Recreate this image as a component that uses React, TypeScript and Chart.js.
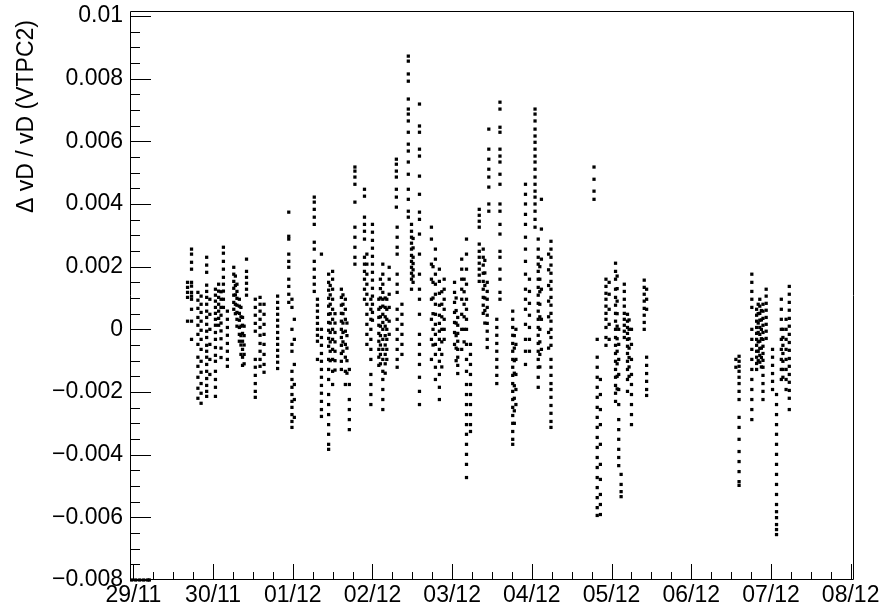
import { useEffect, useRef } from "react";
import { Chart, registerables } from "chart.js";

Chart.register(...registerables);

// Time axis in days since 29/11 00:00
const X_MIN = -0.042;
const X_MAX = 9.042;
const dayTicks = [0, 1, 2, 3, 4, 5, 6, 7, 8, 9];
const dayLabels = ["29/11", "30/11", "01/12", "02/12", "03/12", "04/12", "05/12", "06/12", "07/12", "08/12"];

const Y_MIN = -0.008;
const Y_MAX = 0.01016;
const yTicks = [-0.008, -0.006, -0.004, -0.002, 0, 0.002, 0.004, 0.006, 0.008, 0.01];
const yTickLabels = ["\u22120.008", "\u22120.006", "\u22120.004", "\u22120.002", "0", "0.002", "0.004", "0.006", "0.008", "0.01"];

const yTitle = "\u0394 vD / vD (VTPC2)";

// Each entry: [time in days, relative drift-velocity changes (units of 1e-3) logged at that time]
type Column = [number, number[]];

const floorHits: Column[] = [
  [-0.02, [-8]], [0.03, [-8]], [0.08, [-8]], [0.13, [-8]], [0.18, [-8]], [0.2, [-8]],
];

const nov29: Column[] = [
  [0.68, [1.5, 1.34, 1.18, 1.02, 0.26]],
  [0.73, [2.56, 2.4, 2.14, 1.92, 1.5, 1.38, 1.18, 1.06, 0.96, 0.64, 0.26, -0.32]],
  [0.81, [1.18, 0.93, 0.67, 0.38, 0.13, -0.16, -0.48, -0.89, -1.18, -1.53, -1.88, -2.2]],
  [0.85, [1.06, 0.8, 0.54, 0.26, -0.03, -0.32, -0.64, -1.02, -1.37, -1.73, -2.04, -2.36]],
  [0.92, [2.3, 2.05, 1.82, 1.41, 1.21, 1.02, 0.8, 0.58, 0.38, 0.16, -0.06, -0.26, -0.51, -0.7, -0.89, -1.12, -1.34, -1.57, -1.79, -1.98, -2.14]],
  [0.96, [0.96, 0.48, 0, -0.48, -0.96, -1.44]],
];

const nov30: Column[] = [
  [1.03, [1.28, 1.09, 0.9, 0.7, 0.51, 0.32, 0.13, -0.1, -0.32, -0.58, -0.83, -1.02, -1.34, -1.6, -1.85, -2.14]],
  [1.07, [1.44, 1.22, 1.02, 0.8, 0.58, 0.35, 0.13]],
  [1.1, [1.2, 0.96, 0.7, 0.45, 0.2, -0.05, -0.3, -0.6, -0.9]],
  [1.13, [2.62, 2.43, 2.17, 1.92, 1.66, 1.44, 1.22, 0.96, 0.7]],
  [1.18, [0.58, 0.32, 0.06, -0.19, -0.45, -0.7, -0.96, -1.18]],
  [1.26, [1.98, 1.76, 1.53, 1.31, 1.09, 0.86, 0.64]],
  [1.28, [1.7, 1.4, 1.1, 0.8, 0.5]],
  [1.3, [1.44, 1.21, 0.99, 0.77, 0.54, 0.32, 0.1]],
  [1.33, [0.96, 0.74, 0.51, 0.29, 0.06, -0.16, -0.38]],
  [1.35, [0.7, 0.4, 0.1, -0.2, -0.5, -0.8]],
  [1.37, [0.38, 0.13, -0.13, -0.38, -0.64, -0.89, -1.15]],
  [1.39, [0.1, -0.2, -0.5, -0.8, -1.1]],
  [1.42, [2.24, 1.85, 1.66, 1.47, 1.28, 1.09]],
  [1.53, [0.96, 0.7, 0.45, 0.19, -0.06, -0.96, -1.21, -1.47, -1.73, -1.98, -2.17]],
  [1.59, [1.02, 0.8, 0.58, 0.32, 0.06, -0.19, -0.45, -0.7, -0.96, -1.18]],
  [1.64, [0.8, 0.48, 0.16, -0.16, -0.48, -0.8, -1.12, -1.37]],
  [1.81, [1.06, 0.86, 0.67, 0.48, 0.29, 0.1, -0.1, -0.29, -0.48, -0.67, -0.86, -1.05, -1.25]],
  [1.95, [3.74, 2.97, 2.88, 2.4, 2.17, 1.98, 1.6, 1.37, 1.12, 0.86]],
  [1.99, [0.96, 0.7, 0, -0.48, -0.7, -1.34, -1.6, -1.85, -2.08, -2.3, -2.49, -2.72, -2.94, -3.13]],
];

const dec01: Column[] = [
  [2.02, [0.32, -0.32, -1.12, -1.76, -2.24, -2.81]],
  [2.27, [4.22, 4.06, 3.83, 3.58, 3.35, 2.78, 2.56, 2.17, 1.92, 1.66, 1.44, 1.21]],
  [2.31, [0.96, 0.77, 0.58, 0.38, 0.19, 0, -0.19, -0.38, -0.96]],
  [2.36, [2.4, 0, -0.26, -0.51, -0.77, -1.02, -1.28, -1.53, -1.79, -2.04, -2.3, -2.56, -2.78]],
  [2.45, [1.76, 1.5, 1.25, 0.99, 0.74, 0.48, 0.22, -0.03, -0.29, -0.54, -0.96, -1.28, -1.6, -2.08, -2.4, -2.72, -3.04, -3.35, -3.67, -3.83]],
  [2.47, [1.4, 1.1, 0.8, 0.5, 0.2, -0.1, -0.4, -0.7, -1.0]],
  [2.5, [1.85, 1.6, 1.28, 0.96, 0.64, 0.32, 0, -0.32, -0.64, -0.96, -1.34, -1.76]],
  [2.53, [0.5, 0.2, -0.1, -0.4, -0.7, -1.0, -1.3]],
  [2.61, [1.28, 1.02, 0.77, 0.51, 0.26, 0, -0.26, -0.51, -0.77, -1.02, -1.28]],
  [2.63, [1.1, 0.8, 0.5, 0.2, -0.1, -0.4, -0.7]],
  [2.66, [0.96, 0.64, 0.32, -0.06, -0.48, -0.89, -1.34, -1.76]],
  [2.68, [0.2, -0.2, -0.6, -1.0, -1.4]],
  [2.71, [-1.28, -1.76, -2.24, -2.56, -2.88, -3.2]],
  [2.78, [5.18, 5.05, 4.86, 4.63, 4.06, 3.26, 2.94, 2.62, 2.3, 2.08]],
  [2.9, [4.47, 4.25, 3.58, 3.35, 3.13, 2.88, 2.3, 2.08, 1.85, 1.6, 1.28, 0.96]],
  [2.93, [2.4, 2.08, 1.76, 1.44, 1.12, 0.8, 0.48, 0.16, -0.16, -0.48]],
  [2.98, [0.96, 0.64, 0.32, 0, -0.32, -0.64, -0.96, -1.44, -1.76, -2.08, -2.4]],
];

const dec02: Column[] = [
  [3.0, [3.35, 3.1, 2.84, 2.59, 2.33, 2.08, 1.82, 1.57, 1.31, 1.06, 0.8, 0.54, 0.29]],
  [3.08, [0.96, 0.64, 0.38, 0.13, -0.13, -0.38, -0.64, -0.89, -1.15]],
  [3.1, [1.6, 1.3, 1.0, 0.7, 0.4, 0.1, -0.2, -0.5, -0.8, -1.1]],
  [3.13, [2.08, 1.76, 1.44, 1.18, 0.96, 0.74, 0.48, 0.22, 0, -0.32, -0.64, -0.96, -1.34, -1.6, -1.92, -2.24, -2.56]],
  [3.16, [1.0, 0.7, 0.4, 0.1, -0.2, -0.5, -0.8, -1.1, -1.4]],
  [3.18, [0.96, 0.64, 0.32, 0, -0.32, -0.64, -0.96]],
  [3.21, [1.98, 1.6, 1.12, 0.7, 0.26, -0.16]],
  [3.3, [5.43, 5.27, 5.05, 4.86, 4.47, 4.22, 3.9]],
  [3.31, [3.26, 2.94, 2.62, 2.4, 1.76, 1.44, 1.18, 0.64, 0.32, 0, -0.32, -0.64, -0.96, -1.21]],
  [3.37, [0.8, 0.48, 0.16, -0.16, -0.48, -0.8]],
  [3.45, [8.72, 8.56, 8.15, 7.92, 7.35, 7.03, 6.87, 6.65, 6.29, 5.91, 5.69, 5.34, 4.95, 4.47, 4.15, 3.77, 3.58]],
  [3.49, [3.35, 3.13, 2.94, 2.75, 2.56, 2.36, 2.17, 1.98, 1.79, 1.6, 1.28]],
  [3.51, [2.9, 2.6, 2.3, 2.1, 1.9, 1.7, 1.5]],
  [3.59, [7.19, 6.49, 6.29, 5.75, 5.53, 4.89, 4.31, 3.74, 3.51, 3.04, 2.4, 1.76, 1.28, 0.96, 0.48, -0.16, -0.48, -0.8, -1.12, -1.53, -1.98, -2.4]],
  [3.74, [3.26, 2.88, 2.08, 1.6, 0.96, 0.32, -0.32, -0.96]],
  [3.76, [2.0, 1.5, 1.0, 0.5, 0.0, -0.5]],
  [3.79, [2.56, 2.24, 1.76, 1.44, 1.12, 0.8, 0.48, 0.16, -0.16, -0.48, -0.8, -1.21, -1.6]],
  [3.84, [1.92, 1.53, 1.15, 0.77, 0.45, 0.19, -0.06, -0.32, -0.64, -1.02, -1.44, -1.85, -2.24]],
  [3.87, [1.2, 0.8, 0.4, 0.0, -0.4, -0.8, -1.2]],
  [3.9, [1.6, 1.28, 0.96, 0.64, 0.32, 0, -0.32]],
];

const dec03: Column[] = [
  [4.03, [1.5, 1.18, 0.86, 0.54, 0.22, -0.1, -0.48]],
  [4.05, [1.0, 0.6, 0.2, -0.2, -0.6, -1.0]],
  [4.07, [0.38, 0.13, -0.13, -0.38, -0.64, -0.89, -1.15, -1.41]],
  [4.12, [2.24, 1.92, 1.6, 1.28, 0.96, 0.48, 0, -0.64]],
  [4.15, [1.6, 1.2, 0.8, 0.4, 0.0, -0.4]],
  [4.18, [2.88, 2.4, 1.92, 1.44, 0.96, 0.64, 0.32, 0, -0.48, -0.96, -1.34, -1.76, -2.08, -2.4, -2.72, -3.04, -3.35, -3.67, -3.99, -4.31, -4.73]],
  [4.23, [-0.48, -0.8, -1.12, -1.44, -1.76, -2.08, -2.4, -2.72, -3.04, -3.26]],
  [4.34, [3.83, 3.64, 3.45, 3.26, 2.72, 2.49, 2.3, 2.11, 1.92, 1.73, 1.53]],
  [4.39, [2.56, 2.3, 2.05, 1.79, 1.53, 1.28, 1.02, 0.77, 0.51]],
  [4.41, [2.2, 1.8, 1.4, 1.0, 0.6, 0.2]],
  [4.44, [1.5, 1.21, 0.96, 0.7, 0.45, 0.19, -0.06, -0.32, -0.58]],
  [4.46, [6.39, 5.75, 5.43, 5.11, 4.86, 4.54, 4.0, 3.77]],
  [4.56, [0.32, 0.06, -0.19, -0.45, -0.7, -0.96, -1.21, -1.47, -1.73]],
  [4.6, [7.25, 7.03, 6.45, 6.29, 5.75, 5.53, 5.34, 4.95, 4.63, 4.0, 3.77, 3.35, 3.04, 2.49, 2.3, 1.92, 1.6, 1.18, 0.96]],
  [4.76, [0.58, 0.32, 0.06, -0.19, -0.45, -0.7, -0.96, -1.21, -1.47, -1.73, -1.98, -2.24, -2.49, -2.75, -3.0, -3.26, -3.51, -3.67]],
  [4.78, [-0.2, -0.6, -1.0, -1.4, -1.8, -2.2, -2.6, -3.0]],
  [4.8, [0, -0.48, -0.96, -1.44, -1.92, -2.4]],
  [4.92, [4.63, 4.31, 4.0, 3.67, 3.35, 2.94, 2.56, 2.17, 1.76, 1.28, 0.96, 0.64, 0.16, -0.32, -0.7, -1.12]],
  [4.97, [1.6, 1.21, 0.83, 0.45, 0.06, -0.32, -0.7]],
];

const dec04: Column[] = [
  [5.04, [7.03, 6.87, 6.65, 6.39, 6.17, 5.97, 5.75, 5.53, 5.34, 5.11, 4.86, 4.63, 4.41, 4.22, 4.0, 3.77, 3.51, 3.26]],
  [5.08, [2.88, 2.56, 2.3, 2.08, 1.85, 1.6, 1.34, 1.09, 0.83, 0.58, 0.32, 0.06, -0.19, -0.45, -0.7, -0.96, -1.21, -1.53, -1.85]],
  [5.1, [2.0, 1.6, 1.2, 0.8, 0.4, 0.0, -0.4, -0.8, -1.2]],
  [5.12, [4.15, 3.2, 2.24, 1.28, 0.32, -0.64]],
  [5.21, [2.4, 1.9, 1.4, 0.9, 0.4, -0.1, -0.6]],
  [5.24, [2.81, 2.56, 2.3, 2.05, 1.79, 1.53, 1.28, 1.02, 0.77, 0.51, 0.26, 0, -0.26, -0.51, -0.96, -1.21, -1.47, -1.73, -1.92, -2.17, -2.43, -2.68, -2.94, -3.13]],
  [5.78, [5.18, 4.79, 4.41, 4.15]],
  [5.82, [-0.32, -0.89, -1.21, -1.53, -1.85, -2.17, -2.49, -2.81, -3.13, -3.45, -3.77, -4.09, -4.41, -4.73, -5.05, -5.37, -5.69, -5.94]],
  [5.86, [-1.6, -2.08, -2.56, -3.04, -3.67, -4.31, -4.79, -5.27, -5.59, -5.91]],
  [5.93, [1.6, 1.37, 1.15, 0.96, 0.74, 0.51, 0.32, 0.06, -0.26, -0.51]],
  [5.97, [1.5, 1.12, 0.64, 0.16, -0.32]],
];

const dec05: Column[] = [
  [6.05, [2.11, 1.85, 1.6, 1.28, 1.02, 0.77, 0.51, 0.26, 0, -0.26, -0.51, -0.77, -1.02, -1.28, -1.53, -1.79, -2.04, -2.3]],
  [6.07, [1.7, 1.3, 0.9, 0.5, 0.1, -0.3, -0.7, -1.1, -1.5, -1.9]],
  [6.09, [0, -0.48, -0.96, -1.44, -1.92, -2.4, -2.88, -3.2, -3.51, -3.83, -4.09, -4.35]],
  [6.12, [-4.63, -4.95, -5.18, -5.34]],
  [6.16, [1.44, 1.21, 0.96, 0.74, 0.51, 0.32, 0.13, -0.06, -0.26]],
  [6.2, [0.48, 0.26, 0.06, -0.13, -0.32, -0.54, -0.77, -1.02, -1.28, -1.6, -1.98]],
  [6.22, [0.3, 0.0, -0.3, -0.6, -0.9, -1.2, -1.5]],
  [6.25, [0, -0.48, -0.96, -1.44, -1.76, -2.08, -2.4, -2.72, -3.04]],
  [6.41, [1.57, 1.34, 1.12, 0.9, 0.67, 0.45, 0.22, 0]],
  [6.44, [1.28, 0.96, 0.64, -0.89, -1.15, -1.41, -1.66, -1.92, -2.11]],
];

const dec06: Column[] = [
  [7.56, [-0.96, -1.21]],
  [7.6, [-0.86, -1.02, -1.18, -1.34, -1.53, -1.73, -1.98, -2.24, -2.81, -3.13, -3.51, -3.9, -4.22, -4.54, -4.86, -4.98]],
  [7.76, [1.76, 1.5, 1.21, 0.96, 0.7, 0, -0.32, -0.64, -0.96, -1.28, -1.6, -1.92, -2.24, -2.56, -2.88]],
  [7.82, [0.64, 0.45, 0.26, 0.06, -0.13, -0.32, -0.51, -0.7, -0.89, -1.09, -1.28]],
  [7.84, [0.8, 0.5, 0.2, -0.1, -0.4, -0.7, -1.0]],
  [7.86, [0.96, 0.74, 0.51, 0.29, 0.06, -0.16, -0.38, -0.61, -0.83, -1.05]],
  [7.88, [0.6, 0.3, 0.0, -0.3, -0.6, -0.9, -1.2]],
  [7.9, [0.8, 0.58, 0.35, 0.13, -0.1, -0.32, -0.54, -0.77, -0.99, -1.21, -1.47, -1.73, -1.98, -2.24]],
  [7.94, [1.28, 1.06, 0.83, 0.61, 0.38, 0.16, -0.06, -0.29]],
];

const dec07: Column[] = [
  [8.02, [-0.64, -0.89, -1.15, -1.41, -1.66, -1.92]],
  [8.07, [-2.08, -2.4, -2.72, -3.04, -3.35, -3.67, -3.99, -4.31, -4.63, -4.95, -5.27, -5.59, -5.82, -6.01, -6.23, -6.39, -6.55]],
  [8.13, [0.96, 0.64, 0.32, 0, -0.32, -0.64, -0.96, -1.28, -1.6]],
  [8.15, [0, -0.26, -0.51, -0.77, -1.02, -1.28, -1.53]],
  [8.19, [0.32, 0, -0.32, -0.64, -0.96, -1.28, -1.6, -1.92]],
  [8.23, [1.37, 1.12, 0.86, 0.61, 0.35, 0.1, -0.16, -0.42, -0.67, -0.93, -1.18, -1.44, -1.69, -1.95, -2.2, -2.56]],
];

const toPoints = (cols: Column[]) =>
  cols.flatMap(([t, vals]) => vals.map((v) => ({ x: t, y: v * 1e-3 })));

const FONT = "'Liberation Sans', Arial, Helvetica, sans-serif";

// Frame, inward tick marks and the rotated y title, drawn on top of the plot
const frameAndTicks = {
  id: "frameAndTicks",
  afterDraw(chart: any) {
    const { ctx, chartArea: a } = chart;
    const xs = chart.scales.x;
    const ys = chart.scales.y;
    ctx.save();
    ctx.strokeStyle = "#000";
    ctx.lineWidth = 1;
    ctx.beginPath();
    ctx.rect(a.left + 0.5, a.top + 0.5, a.right - a.left - 1, a.bottom - a.top - 1);
    ctx.stroke();

    ctx.beginPath();
    // x axis: daily major ticks, 6-hour minor ticks
    for (let k = Math.ceil(X_MIN * 4); k <= Math.floor(X_MAX * 4); k++) {
      const px = Math.round(xs.getPixelForValue(k / 4)) + 0.5;
      const len = k % 4 === 0 ? 16 : 8;
      ctx.moveTo(px, a.bottom);
      ctx.lineTo(px, a.bottom - len);
    }
    // y axis: major every 0.002, minor every 0.0005
    for (let k = -16; k * 0.0005 <= Y_MAX + 1e-9; k++) {
      const py = Math.round(ys.getPixelForValue(k * 0.0005)) + 0.5;
      const len = k % 4 === 0 ? 21 : 10;
      ctx.moveTo(a.left, py);
      ctx.lineTo(a.left + len, py);
    }
    ctx.stroke();

    ctx.fillStyle = "#000";
    ctx.font = `23px ${FONT}`;
    ctx.translate(33, 20);
    ctx.rotate(-Math.PI / 2);
    ctx.textAlign = "right";
    ctx.textBaseline = "alphabetic";
    ctx.fillText(yTitle, 0, 0);
    ctx.restore();
  },
};

export default function App() {
  const canvasRef = useRef<HTMLCanvasElement | null>(null);

  useEffect(() => {
    const canvas = canvasRef.current;
    if (!canvas) return;
    const marker = {
      pointStyle: "rect" as const,
      pointRadius: 2.3,
      pointBorderWidth: 0,
      pointBackgroundColor: "#000",
      backgroundColor: "#000",
      borderColor: "#000",
      showLine: false,
    };
    const chart = new Chart(canvas, {
      type: "scatter",
      data: {
        datasets: [
          {
            ...marker,
            data: toPoints([...nov29, ...nov30, ...dec01, ...dec02, ...dec03, ...dec04, ...dec05, ...dec06, ...dec07]),
          },
          { ...marker, data: toPoints(floorHits), clip: false as any },
        ],
      },
      options: {
        animation: false,
        responsive: false,
        devicePixelRatio: 1,
        events: [],
        layout: { padding: { top: 11, right: 31, left: 0, bottom: 0 } },
        plugins: { legend: { display: false }, tooltip: { enabled: false } },
        scales: {
          x: {
            type: "linear",
            min: X_MIN,
            max: X_MAX,
            grid: { display: false, drawTicks: false },
            border: { display: false },
            afterBuildTicks: (s: any) => {
              s.ticks = dayTicks.map((v) => ({ value: v }));
            },
            afterFit: (s: any) => {
              s.height = 30;
              s.paddingLeft = 0;
              s.paddingRight = 0;
            },
            ticks: {
              autoSkip: false,
              maxRotation: 0,
              minRotation: 0,
              padding: 2,
              color: "#000",
              font: { family: FONT, size: 23 },
              callback: (_v: any, i: number) => dayLabels[i],
            },
          },
          y: {
            type: "linear",
            min: Y_MIN,
            max: Y_MAX,
            grid: { display: false, drawTicks: false },
            border: { display: false },
            afterBuildTicks: (s: any) => {
              s.ticks = yTicks.map((v) => ({ value: v }));
            },
            afterFit: (s: any) => {
              s.width = 130;
              s.paddingTop = 0;
              s.paddingBottom = 0;
            },
            ticks: {
              autoSkip: false,
              padding: 7,
              color: "#000",
              font: { family: FONT, size: 23 },
              callback: (_v: any, i: number) => yTickLabels[i],
            },
          },
        },
      },
      plugins: [frameAndTicks],
    });
    return () => chart.destroy();
  }, []);

  return (
    <div style={{ position: "absolute", left: 0, top: 0, width: 885, height: 610, background: "#fff" }}>
      <canvas ref={canvasRef} width={885} height={610} style={{ display: "block" }} />
    </div>
  );
}
